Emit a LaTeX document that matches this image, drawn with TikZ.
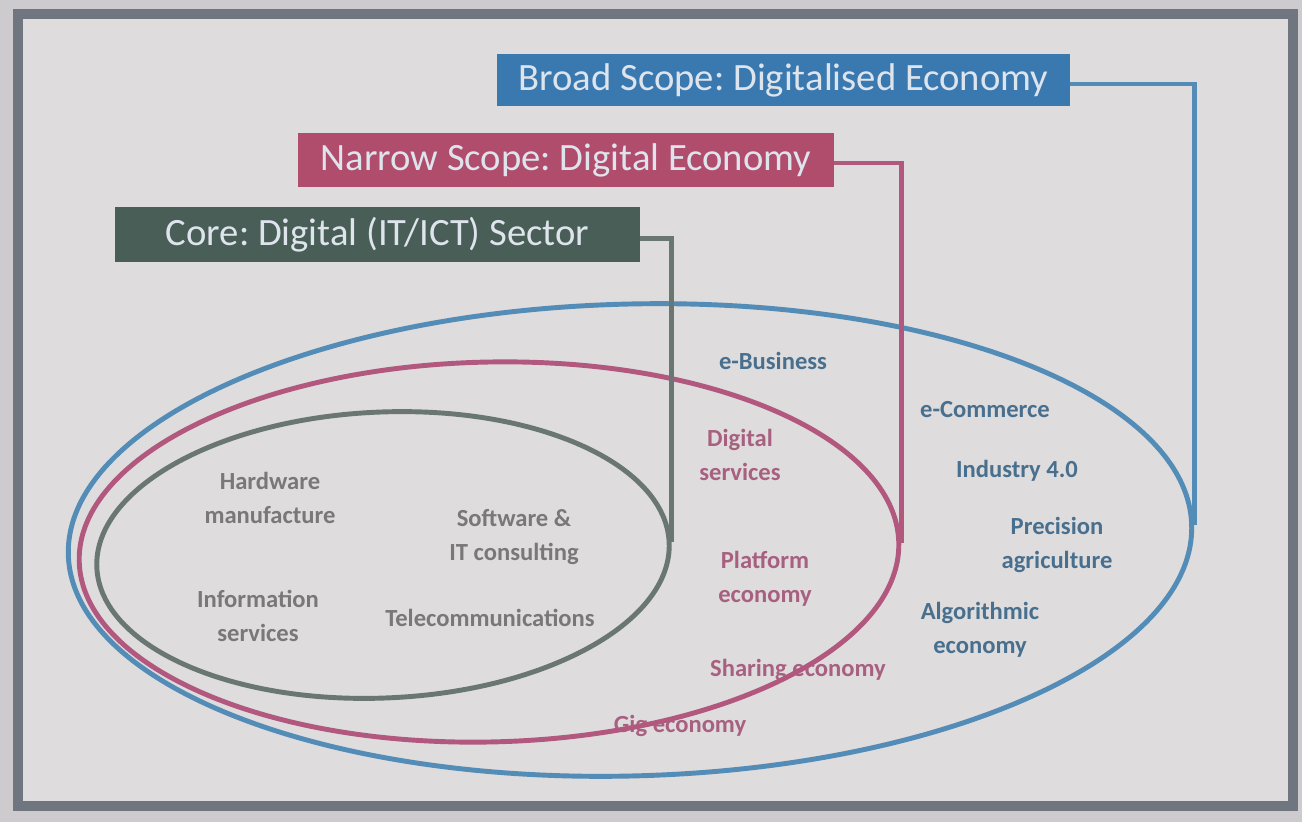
\documentclass[tikz,border=0pt]{standalone}
\usepackage{fontspec}
\setmainfont{Carlito}
\frenchspacing
\usetikzlibrary{shapes.geometric}

\definecolor{outbg}{RGB}{205,203,205}
\definecolor{panelbg}{RGB}{222,220,221}
\definecolor{framegray}{RGB}{112,118,128}
\definecolor{boxblue}{RGB}{58,120,176}
\definecolor{boxred}{RGB}{176,76,108}
\definecolor{boxgreen}{RGB}{72,94,86}
\definecolor{boxtext}{RGB}{222,228,236}
\definecolor{lineblue}{RGB}{84,140,184}
\definecolor{linered}{RGB}{178,88,126}
\definecolor{linegreen}{RGB}{106,118,114}
\definecolor{txtgray}{RGB}{120,120,120}
\definecolor{txtblue}{RGB}{72,112,142}
\definecolor{txtpink}{RGB}{168,96,128}

\tikzset{
  scopebox/.style={minimum height=1.06cm, inner sep=0pt, text=boxtext,
    font=\fontsize{22}{26}\selectfont},
  setline/.style={ellipse, draw, line width=2.8pt, inner sep=0pt},
  item/.style={align=center, font=\fontsize{14}{19.5}\selectfont\bfseries},
  link/.style={line width=2.8pt}
}

\begin{document}
\begin{tikzpicture}[x=0.02cm,y=-0.02cm]
\fill [outbg] (0,0) rectangle (1302,822);
\draw [line width=0.2cm, framegray, fill=panelbg] (18,14) rectangle (1293,806);

% sector labels
\node [item, text=txtgray] (hw) at (270,498) {Hardware\\manufacture};
\node [item, text=txtgray] (sw) at (514,537) {Software \&\\IT consulting};
\node [item, text=txtgray] (info) at (258,616) {Information\\services};
\node [item, text=txtgray] (tele) at (490,618) {Telecommunications};

\node [item, text=txtpink] (digserv) at (740,455) {Digital\\services};
\node [item, text=txtpink] (platform) at (765,579) {Platform\\economy};
\node [item, text=txtpink] (sharing) at (798,670) {Sharing economy};
\node [item, text=txtpink] (gig) at (680,726) {Gig economy};

\node [item, text=txtblue] (ebiz) at (773,361) {e-Business};
\node [item, text=txtblue] (ecom) at (985,410) {e-Commerce};
\node [item, text=txtblue] (industry) at (1017,471) {Industry 4.0};
\node [item, text=txtblue] (precision) at (1057,545) {Precision\\agriculture};
\node [item, text=txtblue] (algo) at (980,630) {Algorithmic\\economy};

% the three scopes
\node [setline, draw=lineblue, minimum width=22.48cm, minimum height=9.44cm, rotate=1.5] (broadset) at (630,540) {};
\node [setline, draw=linered, minimum width=16.4cm, minimum height=7.6cm, rotate=1.3] (narrowset) at (489,552) {};
\node [setline, draw=linegreen, minimum width=11.46cm, minimum height=5.72cm, rotate=2.5] (coreset) at (383,555) {};

\node [scopebox, fill=boxblue, minimum width=11.46cm] (broad) at (783.5,80) {Broad Scope: Digitalised Economy};
\node [scopebox, fill=boxred, minimum width=10.72cm, minimum height=1.08cm] (narrow) at (566,160) {Narrow Scope: Digital Economy};
\node [scopebox, fill=boxgreen, minimum width=10.5cm, minimum height=1.1cm] (core) at (377.5,234.5) {Core: Digital (IT/ICT) Sector};

\draw [link, lineblue] ([yshift=-0.08cm]broad.east) -| (broadset.east);
\draw [link, linered] ([yshift=-0.06cm]narrow.east) -| (narrowset.east);
\draw [link, linegreen] ([yshift=-0.08cm]core.east) -| (coreset.east);
\end{tikzpicture}
\end{document}
